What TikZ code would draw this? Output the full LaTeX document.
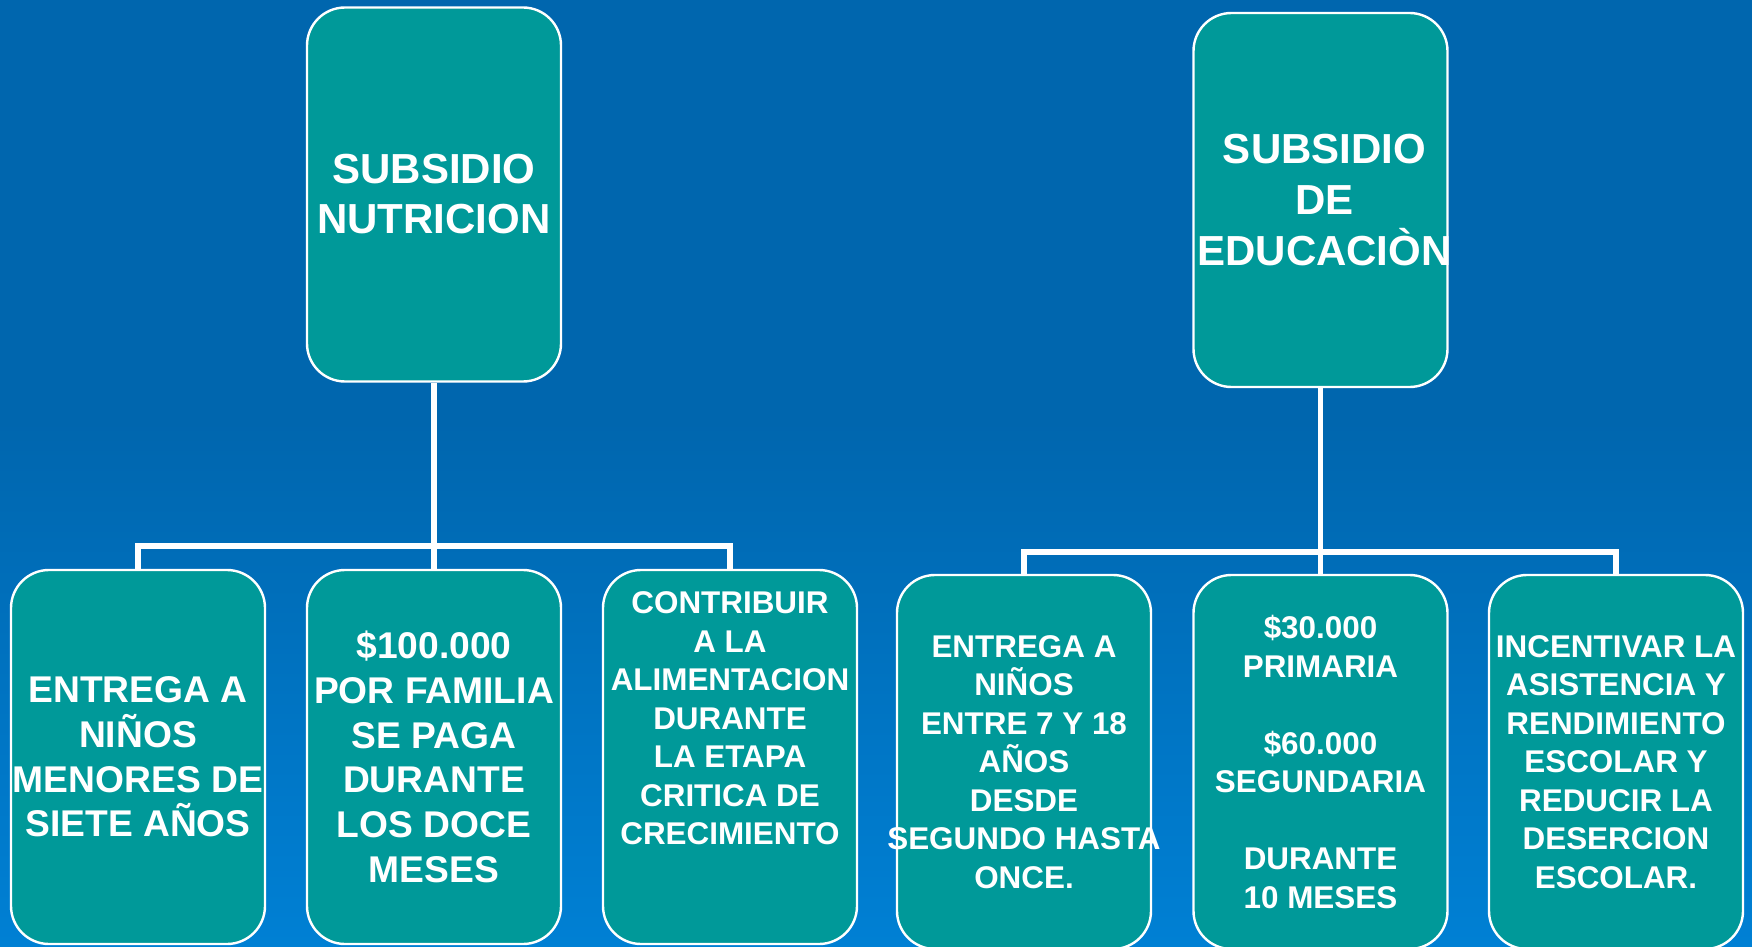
\documentclass[tikz,border=0pt]{standalone}
\usepackage{fontspec}
\setmainfont{Liberation Sans}
\definecolor{fondo}{RGB}{0,102,174}
\definecolor{fondoclaro}{RGB}{0,128,212}
\definecolor{verdeazul}{RGB}{0,153,153}
\tikzset{
  caja/.style = {draw = white, line width = 1.2pt, fill = verdeazul, rounded corners = 19pt,
    minimum width = 127pt, minimum height = 187pt, inner sep = 0pt},
  texto/.style = {text = white, align = center, inner sep = 0pt, font = \bfseries},
  titulo/.style = {texto, font = \fontsize{21}{25}\selectfont\bfseries},
  grande/.style = {texto, font = \fontsize{18.6}{22.35}\selectfont\bfseries},
  chico/.style = {texto, font = \fontsize{15.7}{19.25}\selectfont\bfseries},
  conector/.style = {draw = white, line width = 2.6pt}
}

\begin{document}
\begin{tikzpicture}[x = 0.5pt, y = -0.5pt]

	% fondo
	\fill[fondo] (0, 0) rectangle (1752, 947);
	\fill[top color = fondo, bottom color = fondoclaro] (0, 420) rectangle (1752, 947);
	\useasboundingbox (0, 0) rectangle (1752, 947);

	% nutricion
	\node[caja] (nut) at (434, 194.5) {};
	\node[titulo] (tnut) at (nut) {SUBSIDIO\\NUTRICION};

	\node[caja] (n1) at (138, 757) {};
	\node[grande] (tn1) at (n1) {ENTREGA A\\NIÑOS\\MENORES DE\\SIETE AÑOS};
	\node[caja] (n2) at (434, 757) {};
	\node[grande] (tn2) at (n2) {\$100.000\\POR FAMILIA\\SE PAGA\\DURANTE\\LOS DOCE\\MESES};
	\node[caja] (n3) at (730, 757) {};
	\node[chico] (tn3) at ([yshift = 19.25pt]n3.center) {CONTRIBUIR\\A LA\\ALIMENTACION\\DURANTE\\LA ETAPA\\CRITICA DE\\CRECIMIENTO};

	\coordinate (barraN) at (434, 546);
	\draw[conector] (nut) -- (n2);
	\draw[conector] (n1.north) |- (barraN) -| (n3.north);

	% educacion
	\node[caja] (edu) at (1320.5, 200) {};
	\node[titulo, font = \fontsize{21}{25.7}\selectfont\bfseries] (tedu) at ([xshift = 2pt]edu.center) {SUBSIDIO\\DE\\EDUCACIÒN};

	\node[caja] (e1) at (1024, 762) {};
	\node[chico] (te1) at (e1) {ENTREGA A\\NIÑOS\\ENTRE 7 Y 18\\AÑOS\\DESDE\\SEGUNDO HASTA\\ONCE.};
	\node[caja] (e2) at (1320.5, 762) {};
	\node[chico] (te2) at (e2) {\$30.000\\PRIMARIA\\[19.25pt]\$60.000\\SEGUNDARIA\\[19.25pt]DURANTE\\10 MESES};
	\node[caja] (e3) at (1616, 762) {};
	\node[chico] (te3) at (e3) {INCENTIVAR LA\\ASISTENCIA Y\\RENDIMIENTO\\ESCOLAR Y\\REDUCIR LA\\DESERCION\\ESCOLAR.};

	\coordinate (barraE) at (1320.5, 552);
	\draw[conector] (edu) -- (e2);
	\draw[conector] (e1.north) |- (barraE) -| (e3.north);

\end{tikzpicture}
\end{document}
